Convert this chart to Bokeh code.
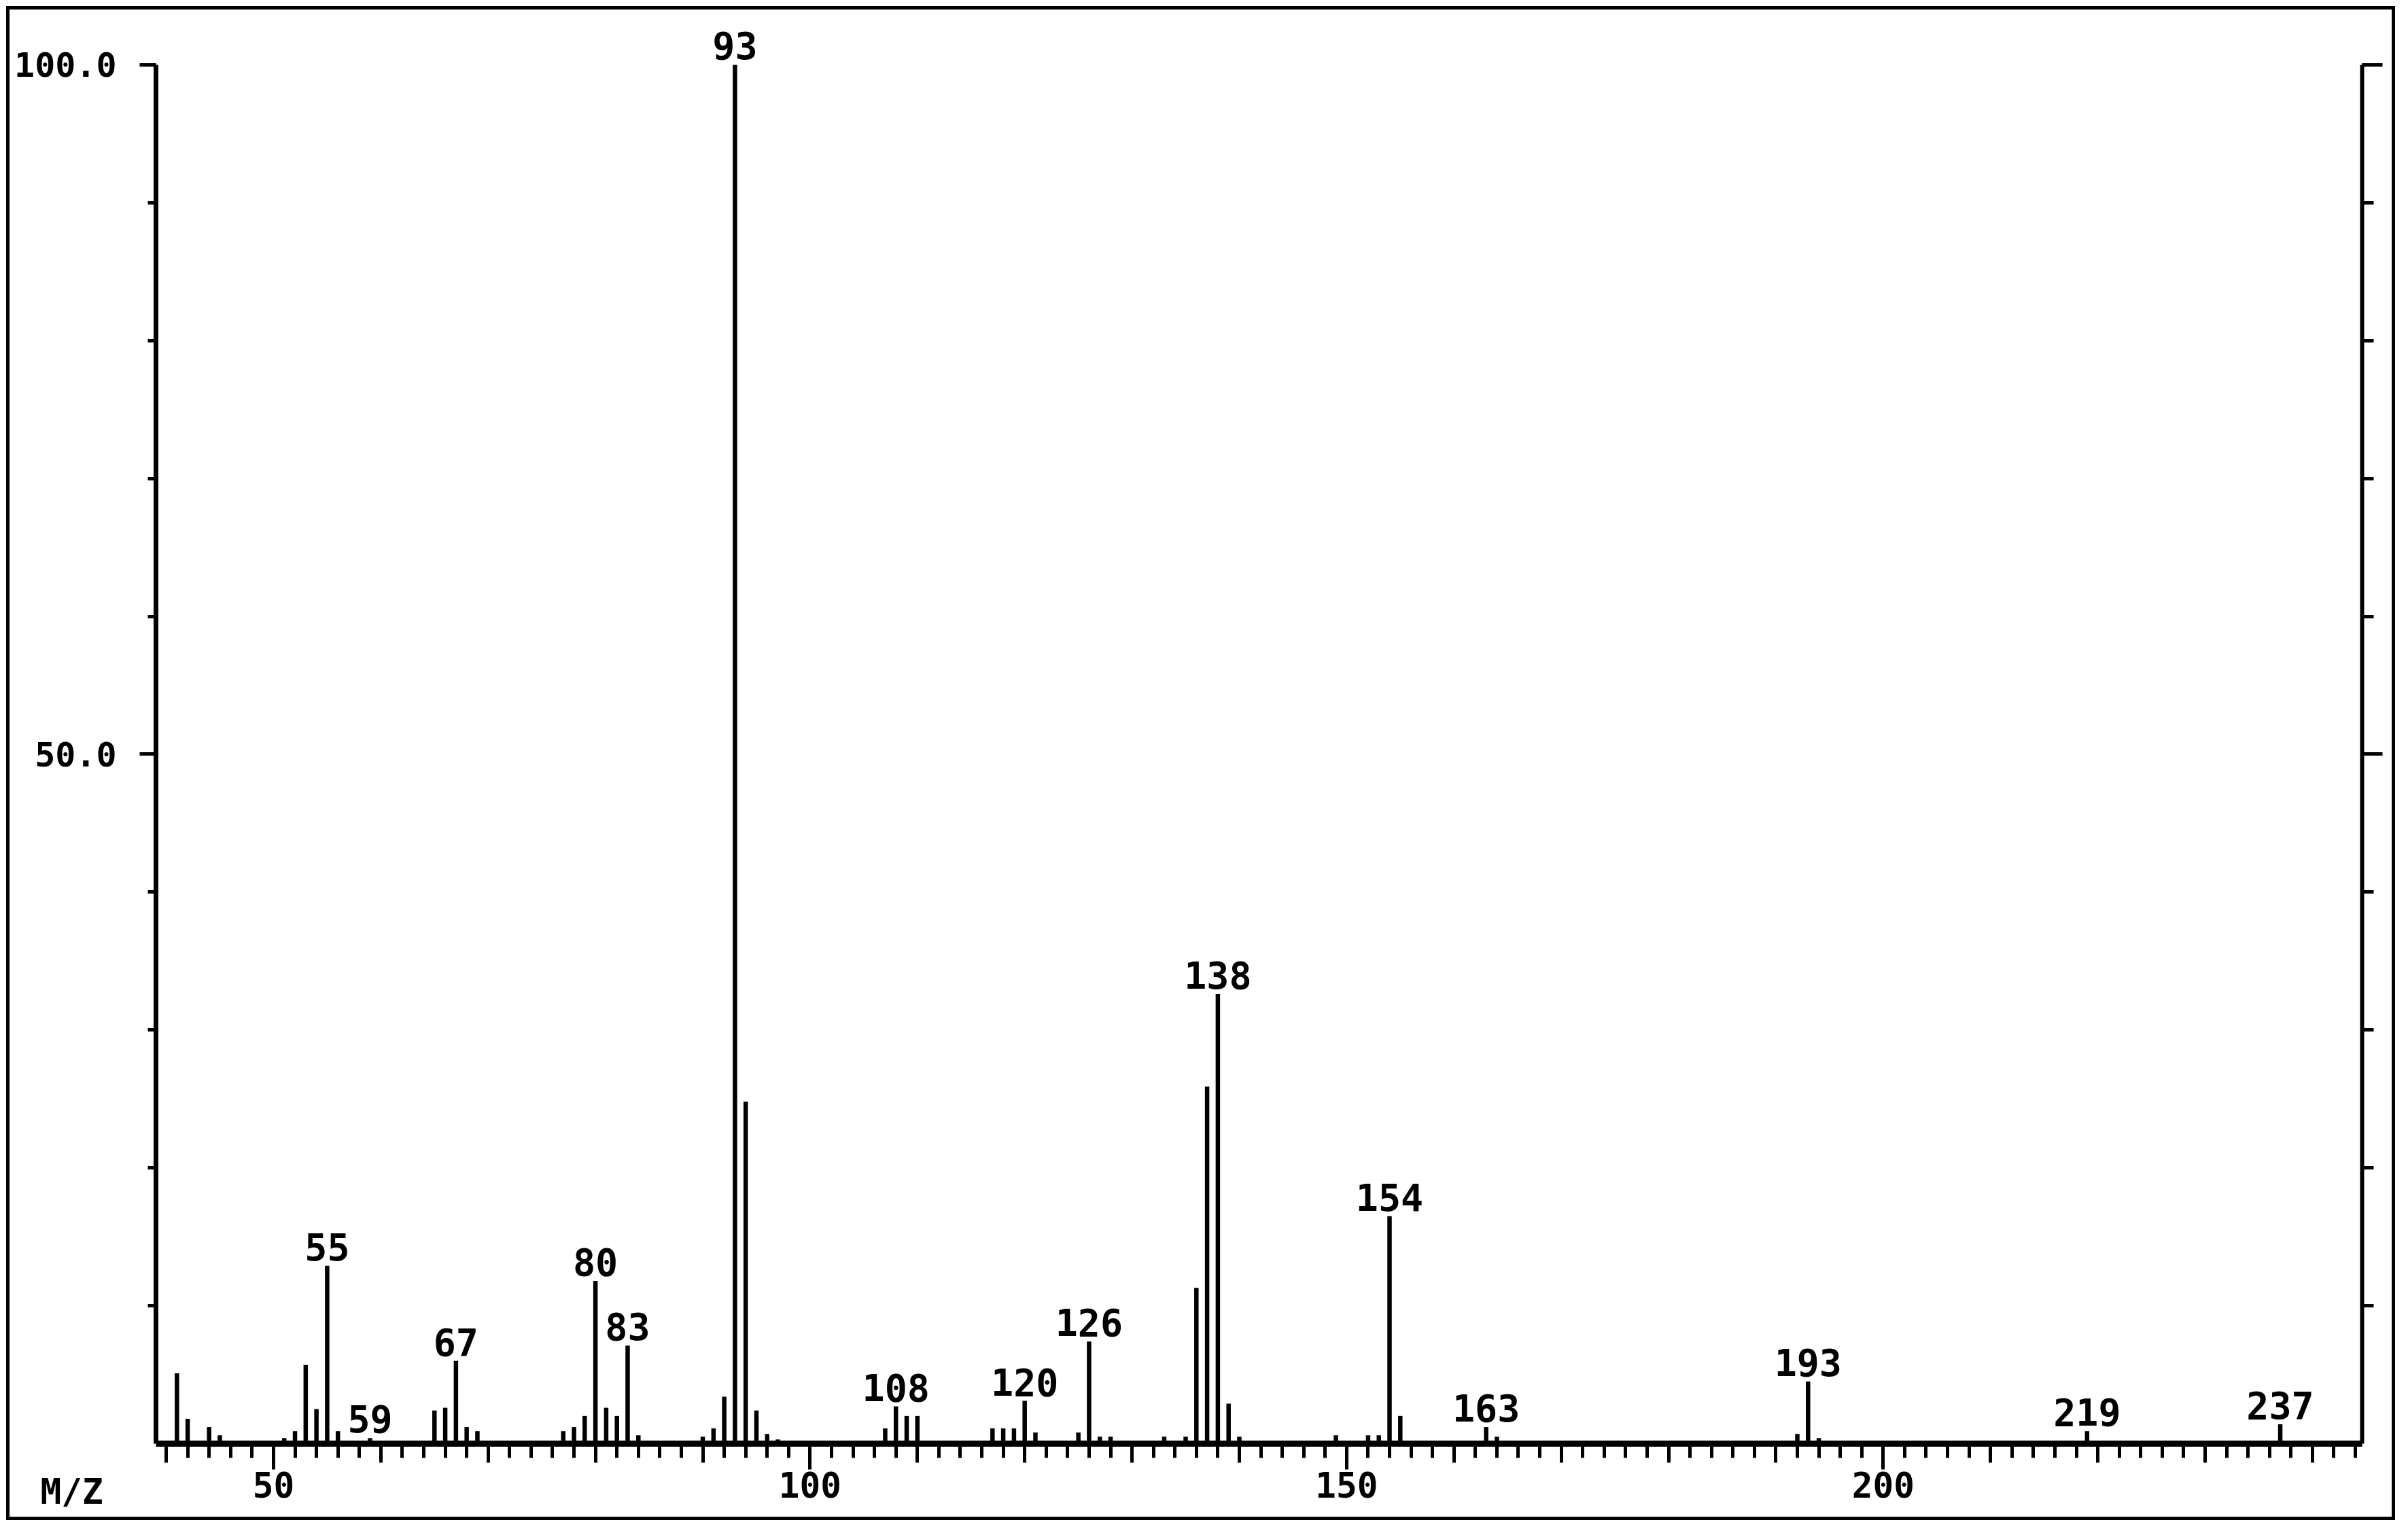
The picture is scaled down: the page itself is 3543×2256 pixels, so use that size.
from bokeh.plotting import figure
from bokeh.models import Range1d, FixedTicker, LinearAxis, ColumnDataSource
from bokeh.embed import file_html
from bokeh.resources import INLINE
from bokeh.core.properties import value

# ---- data (m/z and relative intensity, %) ----
mz = [41, 42, 44, 45, 51, 52, 53, 54, 55, 56, 59, 65, 66, 67, 68, 69,
      77, 78, 79, 80, 81, 82, 83, 84, 90, 91, 92, 93, 94, 95, 96, 97,
      107, 108, 109, 110, 117, 118, 119, 120, 121, 125, 126, 127, 128,
      133, 135, 136, 137, 138, 139, 140, 149, 152, 153, 154, 155,
      163, 164, 192, 193, 194, 219, 237]
intensity = [5.1, 1.8, 1.2, 0.6, 0.4, 0.9, 5.7, 2.5, 12.9, 0.9, 0.4, 2.4, 2.6, 6.0, 1.2, 0.9,
             0.9, 1.2, 2.0, 11.8, 2.6, 2.0, 7.1, 0.6, 0.5, 1.1, 3.4, 100.0, 24.8, 2.4, 0.7, 0.3,
             1.1, 2.7, 2.0, 2.0, 1.1, 1.1, 1.1, 3.1, 0.8, 0.8, 7.4, 0.5, 0.5,
             0.5, 0.5, 11.3, 25.9, 32.6, 2.9, 0.5, 0.6, 0.6, 0.6, 16.5, 2.0,
             1.2, 0.5, 0.7, 4.5, 0.4, 0.9, 1.4]
labeled_mz = [55, 59, 67, 80, 83, 93, 108, 120, 126, 138, 154, 163, 193, 219, 237]

# axes
x_axis_start, x_axis_end = 39.05, 244.6
y_axis_start, y_axis_end = 0, 100
x_ticks_labeled = [50, 100, 150, 200]
x_ticks_mid = [t for t in range(40, 241, 10) if t % 50 != 0]
x_ticks_minor = list(range(40, 245, 2))
y_ticks_labeled = [50, 100]
y_ticks_minor = list(range(10, 101, 10))
y_tick_labels = {50: "50.0", 100: "100.0"}
x_axis_title = "M/Z"
x_axis_title_pos = (31.2, -2.07)

FONT = "DejaVu Sans Mono"

peaks = ColumnDataSource(dict(mz=mz, intensity=intensity))
lookup = dict(zip(mz, intensity))
labels = ColumnDataSource(dict(mz=labeled_mz,
                               intensity=[lookup[m] for m in labeled_mz],
                               label=[str(m) for m in labeled_mz]))

p = figure(width=3515, height=2228,
           x_range=Range1d(25.43, 248.05), y_range=Range1d(-5.82, 103.99),
           output_backend="svg", toolbar_location=None,
           min_border_left=0, min_border_right=0,
           min_border_top=0, min_border_bottom=0)
p.styles = {"border": "5px solid black", "margin": "9px 0 0 9px"}
p.outline_line_color = None
p.xgrid.visible = False
p.ygrid.visible = False
p.background_fill_color = "white"
p.border_fill_color = "white"

p.segment(x0="mz", y0=0, x1="mz", y1="intensity", source=peaks,
          line_width=6.5, line_color="black")
p.text(x="mz", y="intensity", text="label", source=labels,
       text_font=value(FONT), text_font_style="bold", text_font_size="55px",
       text_align="center", text_baseline="bottom", y_offset=-8,
       text_color="black")
p.text(x=[x_axis_title_pos[0]], y=[x_axis_title_pos[1]], text=[x_axis_title],
       text_font=value(FONT), text_font_style="bold", text_font_size="51px",
       text_align="center", text_baseline="top", text_color="black")

# x axis (drawn at y = 0)
xa = p.xaxis[0]
xa.fixed_location = 0
xa.bounds = (x_axis_start, x_axis_end)
xa.ticker = FixedTicker(ticks=x_ticks_labeled, minor_ticks=x_ticks_minor)
xa.axis_line_width = 9
xa.axis_line_color = "black"
xa.major_tick_line_width = 5
xa.major_tick_out = 38
xa.major_tick_in = 0
xa.minor_tick_line_width = 5
xa.minor_tick_out = 21
xa.minor_tick_in = 0
xa.major_label_text_font = FONT
xa.major_label_text_font_style = "bold"
xa.major_label_text_font_size = "51px"
xa.major_label_text_color = "black"
xa.major_label_standoff = 4

# medium ticks every 10
xm = LinearAxis(fixed_location=0, bounds=(x_axis_start, x_axis_end),
                ticker=FixedTicker(ticks=[], minor_ticks=x_ticks_mid))
xm.axis_line_color = None
xm.minor_tick_line_width = 5
xm.minor_tick_out = 28
xm.minor_tick_in = 0
p.add_layout(xm, "below")

# left y axis
ya = p.yaxis[0]
ya.fixed_location = x_axis_start
ya.ticker = FixedTicker(ticks=y_ticks_labeled, minor_ticks=y_ticks_minor)
ya.bounds = (y_axis_start, y_axis_end)
ya.major_label_overrides = y_tick_labels
ya.axis_line_width = 7
ya.axis_line_color = "black"
ya.major_tick_line_width = 5
ya.major_tick_out = 24
ya.major_tick_in = 0
ya.minor_tick_line_width = 5
ya.minor_tick_out = 12
ya.minor_tick_in = 0
ya.major_label_text_font = FONT
ya.major_label_text_font_style = "bold"
ya.major_label_text_font_size = "50px"
ya.major_label_text_color = "black"
ya.major_label_standoff = 34

# right axis (ticks only, no labels)
ra = LinearAxis(fixed_location=x_axis_end, bounds=(y_axis_start, y_axis_end),
                ticker=FixedTicker(ticks=[], minor_ticks=y_ticks_minor))
ra.axis_line_width = 6
ra.minor_tick_line_width = 5
ra.minor_tick_out = 17
ra.minor_tick_in = 0
p.add_layout(ra, "right")

ra2 = LinearAxis(fixed_location=x_axis_end, bounds=(y_axis_start, y_axis_end),
                 ticker=FixedTicker(ticks=[], minor_ticks=y_ticks_labeled))
ra2.axis_line_color = None
ra2.minor_tick_line_width = 5
ra2.minor_tick_out = 30
ra2.minor_tick_in = 0
p.add_layout(ra2, "right")

open("out.html", "w").write(file_html(p, INLINE))
